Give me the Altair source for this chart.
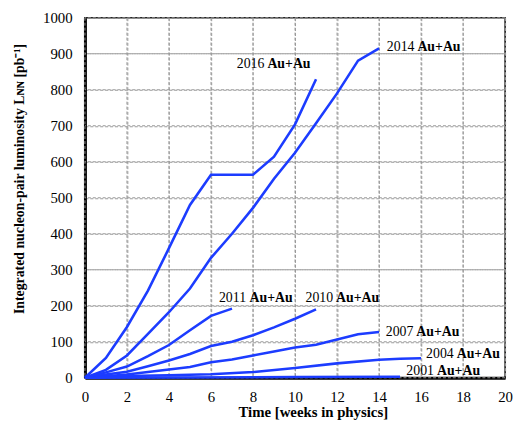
import altair as alt
import pandas as pd

# Data
weeks_2016 = [0, 1, 2, 3, 4, 5, 6, 7, 8, 9, 10, 11]
lum_2016 = [0, 55, 141, 242, 360, 480, 564, 564, 564, 614, 704, 829]

weeks_2014 = [0, 1, 2, 3, 4, 5, 6, 7, 8, 9, 10, 11, 12, 13, 14]
lum_2014 = [0, 22, 62, 122, 182, 248, 333, 400, 472, 553, 625, 707, 790, 881, 915]

weeks_2011 = [0, 1, 2, 3, 4, 5, 6, 7]
lum_2011 = [0, 15, 31, 60, 91, 132, 172, 192]

weeks_2010 = [0, 1, 2, 3, 4, 5, 6, 7, 8, 9, 10, 11]
lum_2010 = [0, 9, 17, 32, 48, 66, 88, 100, 118, 140, 164, 190]

weeks_2007 = [0, 1, 2, 3, 4, 5, 6, 7, 8, 9, 10, 11, 12, 13, 14]
lum_2007 = [0, 4, 9, 16, 23, 30, 43, 51, 62, 73, 84, 92, 106, 121, 127]

weeks_2004 = [0, 2, 4, 6, 8, 10, 12, 14, 15, 16]
lum_2004 = [0, 5, 7, 10, 16, 27, 40, 50, 53, 54]

weeks_2001 = [0, 5, 10, 15]
lum_2001 = [0, 1, 2, 3]

x_ticks = [0, 2, 4, 6, 8, 10, 12, 14, 16, 18, 20]
y_ticks = [0, 100, 200, 300, 400, 500, 600, 700, 800, 900, 1000]

label_years = ["2016", "2014", "2011", "2010", "2007", "2004", "2001"]
label_x = [7.23, 14.37, 6.38, 10.5, 14.32, 16.24, 15.3]
label_y = [871, 918, 222, 222, 126, 66, 19]
label_species = ["Au+Au"] * 7

runs = [
    ("2016", weeks_2016, lum_2016),
    ("2014", weeks_2014, lum_2014),
    ("2011", weeks_2011, lum_2011),
    ("2010", weeks_2010, lum_2010),
    ("2007", weeks_2007, lum_2007),
    ("2004", weeks_2004, lum_2004),
    ("2001", weeks_2001, lum_2001),
]
rows = []
for run, xs, ys in runs:
    for i, (x, y) in enumerate(zip(xs, ys)):
        rows.append({"run": run, "week": x, "lum": y, "order": i})
df = pd.DataFrame(rows)

lab = pd.DataFrame({"year": label_years, "x": label_x, "y": label_y, "sp": label_species})
xt = pd.DataFrame({"gx": x_ticks})
yt = pd.DataFrame({"gy": y_ticks})

FONT = "Liberation Serif"

xscale = alt.Scale(domain=[0, 20], nice=False)
yscale = alt.Scale(domain=[0, 1000], nice=False)

x_axis = alt.Axis(title="Time [weeks in physics]", values=x_ticks, format="d",
                  grid=True, gridDash=[3, 2], gridColor="#999999", gridWidth=1,
                  ticks=False, domainColor="black", domainWidth=3,
                  labelOverlap=False, labelFlush=False, labelPadding=12,
                  labelFont=FONT, labelFontSize=15, labelColor="black",
                  titleFont=FONT, titleFontSize=15, titleFontWeight="bold",
                  titleColor="black", titleX=231, titleY=27)
y_axis = alt.Axis(title="Integrated nucleon-pair luminosity Lɴɴ [pb⁻¹]",
                  values=y_ticks, format="d",
                  grid=True, gridDash=[3, 2], gridColor="#999999", gridWidth=1,
                  ticks=False, domainColor="black", domainWidth=3,
                  labelOverlap=False, labelFlush=False, labelPadding=13,
                  labelFont=FONT, labelFontSize=15, labelColor="black",
                  titleFont=FONT, titleFontSize=14, titleFontWeight="bold",
                  titleColor="black", titleX=-59, titleY=163)

vgrid = alt.Chart(xt).mark_rule(color="#999999", strokeWidth=1, strokeDash=[3, 2]).encode(
    x=alt.X("gx:Q", scale=xscale, axis=x_axis))
hgrid = alt.Chart(yt).mark_rule(color="#999999", strokeWidth=1, strokeDash=[3, 2]).encode(
    y=alt.Y("gy:Q", scale=yscale, axis=y_axis))

lines = alt.Chart(df).mark_line(color="#1c3cff", strokeWidth=2.6).encode(
    x=alt.X("week:Q", scale=xscale, axis=x_axis),
    y=alt.Y("lum:Q", scale=yscale, axis=y_axis),
    detail="run:N",
    order="order:Q",
)

year_text = alt.Chart(lab).mark_text(align="left", baseline="middle", font=FONT,
                                     fontSize=14, color="black").encode(
    x=alt.X("x:Q", scale=xscale, axis=x_axis),
    y=alt.Y("y:Q", scale=yscale, axis=y_axis), text="year:N")

sp_text = alt.Chart(lab).mark_text(align="left", baseline="middle", font=FONT,
                                   fontSize=14, fontWeight="bold", color="black", dx=31).encode(
    x=alt.X("x:Q", scale=xscale, axis=x_axis),
    y=alt.Y("y:Q", scale=yscale, axis=y_axis), text="sp:N")

chart = alt.layer(vgrid, hgrid, lines, year_text, sp_text).properties(
    width=426, height=365,
    background="white",
    autosize=alt.AutoSizeParams(type="none"),
    padding={"left": 78, "top": 7, "right": 8, "bottom": 46},
).configure_view(
    stroke="black", strokeWidth=1.5
)

chart.save("out.html", embed_options={"renderer": "svg", "actions": False})
